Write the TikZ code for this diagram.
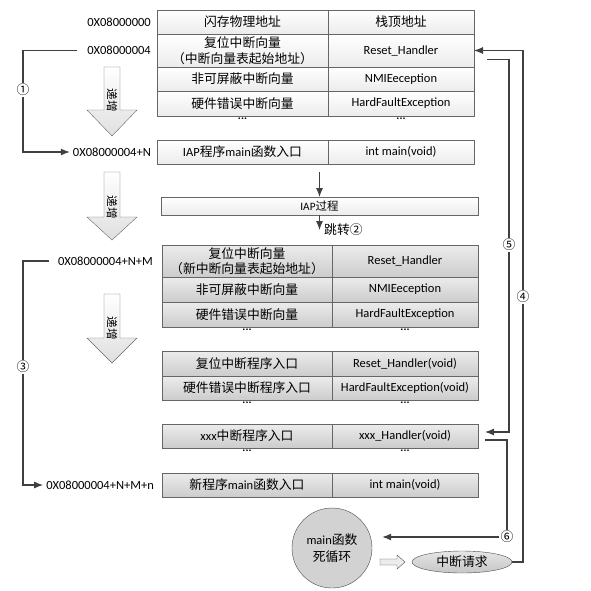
\documentclass[tikz,border=0pt]{standalone}
\usepackage{fontspec}
\setmainfont{Carlito}[Scale=1.25]
\newfontfamily\cjk{Noto Sans CJK SC}[Scale=1.28]
\usetikzlibrary{arrows.meta,positioning,calc,shapes.geometric}
\tikzset{>={Latex[length=9pt,width=7pt]}}
\tikzset{
  cell/.style={draw=black!60, inner sep=0pt, outer sep=0pt, anchor=north west, align=center, minimum height=24pt},
  lite/.style={cell, top color=white, bottom color=gray!15},
  dark/.style={cell, top color=gray!15, bottom color=gray!40},
  twoline/.style={font=\cjk\fontsize{10}{15.5}\selectfont},
  addr/.style={inner sep=3pt},
  ellip/.style={anchor=north, inner sep=2pt, font=\small\bfseries},
  num/.style={font=\cjk, inner sep=1pt, fill=white},
  link/.style={draw=black!75, line width=1.1pt},
}

\begin{document}
\begin{tikzpicture}[x=1pt,y=-1pt]
    \useasboundingbox (0,0) rectangle (591,590);

    % vector table in flash
    \node[lite, font=\cjk, minimum width=171pt] (f1a) at (157,10) {闪存物理地址};
    \node[lite, font=\cjk, minimum width=146pt, right=0pt of f1a] (f1b) {栈顶地址};
    \node[lite, twoline, minimum width=171pt, minimum height=33pt, below=0pt of f1a] (f2a) {复位中断向量\\（中断向量表起始地址）};
    \node[lite, minimum width=146pt, minimum height=33pt, right=0pt of f2a] (f2b) {Reset\_Handler};
    \node[lite, font=\cjk, minimum width=171pt, below=0pt of f2a] (f3a) {非可屏蔽中断向量};
    \node[lite, minimum width=146pt, right=0pt of f3a] (f3b) {NMIEeception};
    \node[lite, font=\cjk, minimum width=171pt, minimum height=25pt, below=0pt of f3a] (f4a) {硬件错误中断向量};
    \node[lite, minimum width=146pt, minimum height=25pt, right=0pt of f4a] (f4b) {HardFaultException};
    \node[ellip] (f5a) at (f4a.south) {...};
    \node[ellip] (f5b) at (f4b.south) {...};

    % IAP program
    \node[lite, minimum width=171pt] (p1a) at (157,140) {IAP{\cjk 程序}main{\cjk 函数入口}};
    \node[lite, minimum width=146pt, right=0pt of p1a] (p1b) {int main(void)};
    \node[lite, font=\small, minimum width=317pt, minimum height=18pt] (iap) at (161,197) {IAP{\cjk 过程}};

    % new vector table
    \node[dark, twoline, minimum width=170pt, minimum height=32pt] (g1a) at (162,245) {复位中断向量\\（新中断向量表起始地址）};
    \node[dark, minimum width=146pt, minimum height=32pt, right=0pt of g1a] (g1b) {Reset\_Handler};
    \node[dark, font=\cjk, minimum width=170pt, minimum height=25pt, below=0pt of g1a] (g2a) {非可屏蔽中断向量};
    \node[dark, minimum width=146pt, minimum height=25pt, right=0pt of g2a] (g2b) {NMIEeception};
    \node[dark, font=\cjk, minimum width=170pt, minimum height=25pt, below=0pt of g2a] (g3a) {硬件错误中断向量};
    \node[dark, minimum width=146pt, minimum height=25pt, right=0pt of g3a] (g3b) {HardFaultException};
    \node[ellip] (g4a) at (g3a.south) {...};
    \node[ellip] (g4b) at (g3b.south) {...};

    % handlers of the new program
    \node[dark, font=\cjk, minimum width=170pt, minimum height=25pt] (h1a) at (162,351) {复位中断程序入口};
    \node[dark, minimum width=146pt, minimum height=25pt, right=0pt of h1a] (h1b) {Reset\_Handler(void)};
    \node[dark, font=\cjk, minimum width=170pt, below=0pt of h1a] (h2a) {硬件错误中断程序入口};
    \node[dark, minimum width=146pt, right=0pt of h2a] (h2b) {HardFaultException(void)};
    \node[ellip] (h3a) at (h2a.south) {...};
    \node[ellip] (h3b) at (h2b.south) {...};

    \node[dark, minimum width=170pt] (x1a) at (162,424) {xxx{\cjk 中断程序入口}};
    \node[dark, minimum width=146pt, right=0pt of x1a] (x1b) {xxx\_Handler(void)};
    \node[ellip] (x2a) at (x1a.south) {...};
    \node[ellip] (x2b) at (x1b.south) {...};

    \node[dark, minimum width=170pt] (m1a) at (162,473) {{\cjk 新程序}main{\cjk 函数入口}};
    \node[dark, minimum width=146pt, right=0pt of m1a] (m1b) {int main(void)};

    % addresses
    \node[addr, left=3pt of f1a] (a0) {0X08000000};
    \node[addr, left=3pt of f2a] (a1) {0X08000004};
    \node[addr, left=3pt of p1a] (aN) {0X08000004+N};
    \node[addr, left=6pt of g1a] (aNM) {0X08000004+N+M};
    \node[addr, left=5pt of m1a] (aNMn) {0X08000004+N+M+n};

    % growing direction
    \foreach \t/\h/\b [count=\i] in {67/110/136, 172/217/240, 294/338/363}{
        \draw[draw=black!60, top color=white, bottom color=gray!25] (104,\t) -- (120,\t) -- (120,\h) -- (137,\h) -- (112,\b) -- (87,\h) -- (104,\h) -- cycle;
        \node[rotate=-90, font=\small\cjk, inner sep=0pt] (inc\i) at (112,\h-10) {递增};
    }

    % main loop and interrupt
    \node[circle, draw=black!70, fill=gray!35, minimum size=80pt, inner sep=0pt, align=center, font=\fontsize{10}{17}\selectfont] (loop) at (332,548) {main{\cjk 函数}\\{\cjk 死循环}};
    \node[ellipse, draw=black!70, top color=gray!20, bottom color=gray!45, minimum width=100pt, minimum height=22pt, inner sep=0pt, font=\cjk] (irq) at (462,562) {中断请求};
    \draw[draw=black!70, fill=gray!15] (380,559) -- (397,559) -- (397,555) -- (405,562) -- (397,569) -- (397,565) -- (380,565) -- cycle;

    % jumps
    \coordinate (lx) at (23,0);
    \coordinate (rx4) at (523,0);
    \coordinate (rx5) at (509,0);

    \draw[link, ->] ([xshift=-7pt]a1.west) -- (a1.west -| lx) |- (aN.west);
    \node[num] (n1) at (23,90) {①};
    \draw[link, ->] ([yshift=-8pt]iap.north |- p1a.south) -- (iap.north);
    \draw[link, ->] (iap.south) -- ([yshift=15pt]iap.south |- g1a.north) node[right, font=\cjk] (jump) {跳转②};
    \draw[link, ->] ([xshift=-6pt]aNM.west) -- (aNM.west -| lx) |- (aNMn.west);
    \node[num] (n3) at (23,367) {③};

    \draw[link, ->] (irq.east) -| (rx4 |- f2b.east) -- (f2b.east);
    \node[num] (n4) at (523,297) {④};
    \draw[link, ->] ([xshift=13pt,yshift=-9pt]f2b.east) -| ([yshift=4pt]rx5 |- x1b.east) -- ([xshift=7pt,yshift=4pt]x1b.east);
    \node[num] (n5) at (509,245) {⑤};
    \node[num, fill=none] (n6) at (507,537) {⑥};
    \draw[link] ([xshift=7pt,yshift=-4pt]x1b.east) -| (n6.north);
    \draw[link, ->] (n6.west) -- ([xshift=10pt]n6.west -| loop.east);
\end{tikzpicture}
\end{document}
